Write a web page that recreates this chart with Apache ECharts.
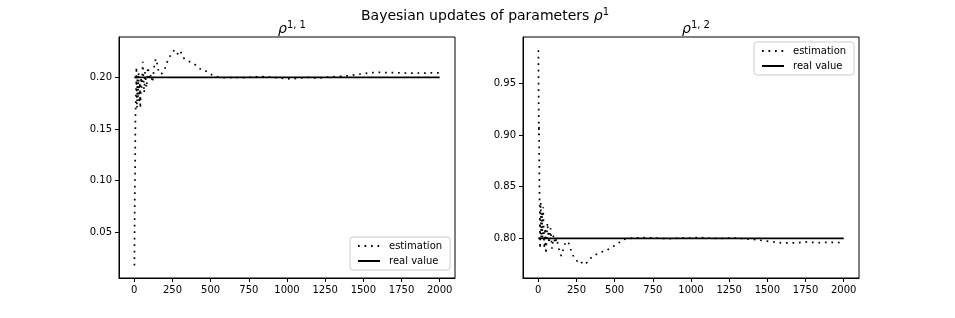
<!DOCTYPE html>
<html>
<head>
<meta charset="utf-8">
<script src="https://cdn.jsdelivr.net/npm/echarts@6/dist/echarts.min.js"></script>
<style>
html,body{margin:0;padding:0;background:#fff;}
#chart{width:955px;height:318px;}
</style>
</head>
<body>
<div id="chart"></div>
<script>
// ---- data ----
const xTicks = [0, 250, 500, 750, 1000, 1250, 1500, 1750, 2000];
const yTicksLeft = [0.05, 0.10, 0.15, 0.20];
const yTicksRight = [0.80, 0.85, 0.90, 0.95];
const realX = [0, 2000];
const realLeft = [0.2, 0.2];
const realRight = [0.8, 0.8];

const estX1 = [1, 2, 3, 4, 5, 6, 7, 8, 10, 12, 14, 16, 18, 20, 24, 28, 32, 36, 40, 45, 50, 55, 60, 65, 70, 80, 90, 100, 110, 120, 130, 140, 150, 160, 175, 190, 205, 220, 240, 260, 280, 300, 320, 350, 380, 410, 440, 470, 500, 530, 560,
  600, 650, 700, 750, 800, 850, 900, 950, 1000, 1050, 1100, 1150, 1200, 1250, 1300, 1350, 1400, 1450, 1500, 1550, 1600, 1650, 1700, 1750, 1800, 1850, 1900, 1950, 2000];
const estY1 = [0.018, 0.05, 0.08, 0.095, 0.10, 0.12, 0.15, 0.165, 0.175, 0.19, 0.21, 0.185, 0.17, 0.20, 0.18, 0.205, 0.175, 0.195, 0.17, 0.20, 0.19, 0.215, 0.20, 0.185, 0.205, 0.19, 0.21, 0.198, 0.203, 0.195, 0.21, 0.218, 0.213, 0.205, 0.203, 0.205, 0.21, 0.217, 0.222, 0.226, 0.222, 0.226, 0.219, 0.216, 0.214, 0.211, 0.207, 0.206, 0.203, 0.201, 0.200,
  0.1995, 0.200, 0.1995, 0.200, 0.2005, 0.2008, 0.200, 0.1995, 0.1985, 0.1988, 0.1995, 0.200, 0.199, 0.200, 0.2005, 0.201, 0.2015, 0.2025, 0.2035, 0.2045, 0.2048, 0.2045, 0.2045, 0.2043, 0.204, 0.2042, 0.204, 0.2043, 0.2042];

const estX2 = [1, 2, 3, 4, 5, 6, 7, 8, 10, 12, 14, 16, 18, 20, 24, 28, 32, 36, 40, 45, 50, 55, 60, 65, 70, 80, 90, 100, 110, 120, 135, 150, 165, 180, 200, 215, 235, 255, 275, 290, 310, 330, 360, 400, 440, 480, 520, 560,
  600, 650, 700, 750, 800, 850, 900, 950, 1000, 1050, 1100, 1150, 1200, 1250, 1300, 1350, 1400, 1450, 1500, 1550, 1600, 1650, 1700, 1750, 1800, 1850, 1900, 1950, 2000];
const estY2 = [0.982, 0.95, 0.92, 0.90, 0.91, 0.88, 0.86, 0.84, 0.83, 0.79, 0.82, 0.835, 0.81, 0.80, 0.825, 0.80, 0.83, 0.805, 0.79, 0.81, 0.785, 0.80, 0.815, 0.805, 0.795, 0.81, 0.79, 0.803, 0.795, 0.80, 0.79, 0.783, 0.79, 0.797, 0.795, 0.788, 0.781, 0.778, 0.779, 0.775, 0.775, 0.779, 0.783, 0.786, 0.788, 0.791, 0.795, 0.799,
  0.800, 0.8005, 0.8008, 0.8005, 0.800, 0.7995, 0.800, 0.8005, 0.8005, 0.8008, 0.8003, 0.800, 0.7998, 0.8003, 0.8002, 0.7995, 0.799, 0.7982, 0.7972, 0.7962, 0.7955, 0.7955, 0.7958, 0.7965, 0.796, 0.7957, 0.7962, 0.796, 0.7958];

// ---- chart ----
const FONT = 'DejaVu Sans';
const pairs = (xs, ys) => xs.map((x, i) => [x, ys[i]]);

function xAxis(gi) {
  return {
    type: 'value', gridIndex: gi, min: -100, max: 2100,
    splitLine: {show: false},
    axisLine: {show: true, onZero: false, lineStyle: {color: '#000', width: 1}},
    axisTick: {show: true, length: 4, lineStyle: {color: '#000'}, customValues: xTicks},
    axisLabel: {color: '#000', fontFamily: FONT, fontSize: 10, margin: 7, customValues: xTicks,
      formatter: v => String(Math.round(v))}
  };
}
function yAxis(gi, min, max, ticks) {
  return {
    type: 'value', gridIndex: gi, min: min, max: max,
    splitLine: {show: false},
    axisLine: {show: true, onZero: false, lineStyle: {color: '#000', width: 1}},
    axisTick: {show: true, length: 4, lineStyle: {color: '#000'}, customValues: ticks},
    axisLabel: {color: '#000', fontFamily: FONT, fontSize: 10, margin: 7, customValues: ticks,
      formatter: v => v.toFixed(2)}
  };
}
const dotted = {color: '#000', width: 1.7, type: [1.7, 4.8], cap: 'butt'};
const solid = {color: '#000', width: 1.8};

function legend(left, top) {
  return {
    left: left, top: top, orient: 'vertical',
    backgroundColor: '#fff', borderColor: '#ccc', borderWidth: 1, borderRadius: 3,
    padding: [4, 8, 4, 7], itemGap: 5, itemWidth: 22, itemHeight: 10,
    itemStyle: {opacity: 0},
    textStyle: {color: '#000', fontFamily: FONT, fontSize: 10, padding: [0, 0, 0, 4]},
    data: ['estimation', 'real value'], selectedMode: false
  };
}

const titleRich = {
  a: {fontFamily: FONT, fontSize: 14, fontWeight: 'normal', color: '#000'},
  i: {fontFamily: FONT, fontSize: 14, fontWeight: 'normal', fontStyle: 'italic', color: '#000'},
  s: {fontFamily: FONT, fontSize: 10, fontWeight: 'normal', color: '#000', padding: [0, 0, 8, 0]}
};

const chart = echarts.init(document.getElementById('chart'), null, {renderer: 'canvas'});
chart.setOption({
  animation: false,
  backgroundColor: '#fff',
  title: [
    {text: '{a|Bayesian updates of parameters }{i|ρ}{s|1}', left: 480, top: 2, textAlign: 'center',
      textStyle: {fontWeight: 'normal', rich: titleRich}},
    {text: '{i|ρ}{s|1, 1}', left: 287, top: 15, textAlign: 'center', textStyle: {fontWeight: 'normal', rich: titleRich}},
    {text: '{i|ρ}{s|1, 2}', left: 691, top: 15, textAlign: 'center', textStyle: {fontWeight: 'normal', rich: titleRich}}
  ],
  legend: [legend(350, 237), legend(754, 42)],
  grid: [
    {left: 119, right: 500, top: 37, bottom: 40, show: true, borderColor: '#000', borderWidth: 1},
    {left: 523, right: 96, top: 37, bottom: 40, show: true, borderColor: '#000', borderWidth: 1}
  ],
  xAxis: [xAxis(0), xAxis(1)],
  yAxis: [yAxis(0, 0.0058, 0.239, yTicksLeft), yAxis(1, 0.7616, 0.9948, yTicksRight)],
  series: [
    {name: 'estimation', type: 'line', xAxisIndex: 0, yAxisIndex: 0, symbol: 'none', data: pairs(estX1, estY1), lineStyle: dotted, itemStyle: {color: '#000'}},
    {name: 'real value', type: 'line', xAxisIndex: 0, yAxisIndex: 0, symbol: 'none', data: pairs(realX, realLeft), lineStyle: solid, itemStyle: {color: '#000'}},
    {name: 'estimation', type: 'line', xAxisIndex: 1, yAxisIndex: 1, symbol: 'none', data: pairs(estX2, estY2), lineStyle: dotted, itemStyle: {color: '#000'}},
    {name: 'real value', type: 'line', xAxisIndex: 1, yAxisIndex: 1, symbol: 'none', data: pairs(realX, realRight), lineStyle: solid, itemStyle: {color: '#000'}}
  ]
});
</script>
</body>
</html>
